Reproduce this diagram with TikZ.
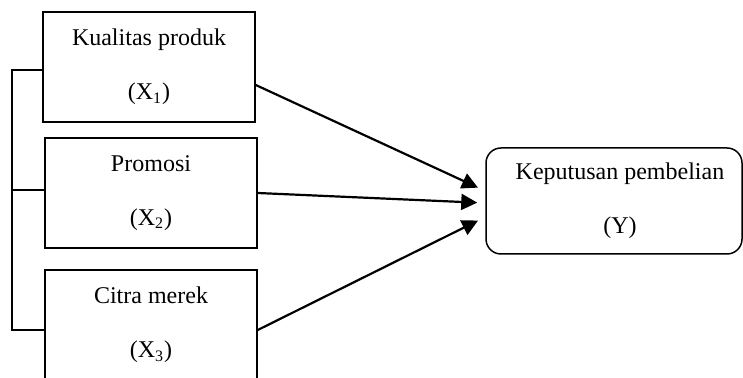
\documentclass[tikz,border=0pt]{standalone}
\usepackage{fontspec}
\setmainfont{Liberation Serif}
\usetikzlibrary{arrows.meta}
\begin{document}
\begin{tikzpicture}[x=0.5pt,y=-0.5pt] % one unit = one pixel of the picture
\tikzstyle{varbox} = [draw, line width=0.75pt, minimum width=106pt, minimum height=55pt, align=center, inner sep=0pt, font=\fontsize{12}{14}\selectfont] % independent variable box
\tikzstyle{ybox} = [varbox, rounded corners=7.5pt, minimum width=128pt, minimum height=53pt] % dependent variable box
\tikzstyle{panah} = [line width=1.1pt, -{Triangle[length=8pt,width=8pt]}, shorten >=4pt] % arrow to Y
\clip (0,0) rectangle (743,378); % the bottom box is cut by the page edge
\node[varbox] (k1) at (149,67) {Kualitas produk\\[13pt](X\textsubscript{1})};
\node[varbox] (k2) at (151,193) {Promosi\\[13pt](X\textsubscript{2})};
\node[varbox] (k3) at (151,325) {Citra merek\\[13pt](X\textsubscript{3})};
\node[ybox] (y) at (614,201) {\hspace*{6pt}Keputusan pembelian\\[13pt]\hspace*{6pt}(Y)};
% bracket on the left
\coordinate (kiri) at (12,70);
\coordinate (p2) at ([yshift=1.5pt]k2.west);
\draw[line width=0.75pt] ([yshift=-1.5pt]k1.west) -- (kiri) |- ([yshift=-2.5pt]k3.west);
\draw[line width=0.75pt] (p2) -- (p2 -| kiri);
% arrows
\draw[panah] ([yshift=-9pt]k1.east) -- ([yshift=5pt]y.west);
\draw[panah] (k2.east) -- ([yshift=-1pt]y.west);
\draw[panah] ([yshift=-2.5pt]k3.east) -- ([yshift=-8pt]y.west);
\end{tikzpicture}
\end{document}
